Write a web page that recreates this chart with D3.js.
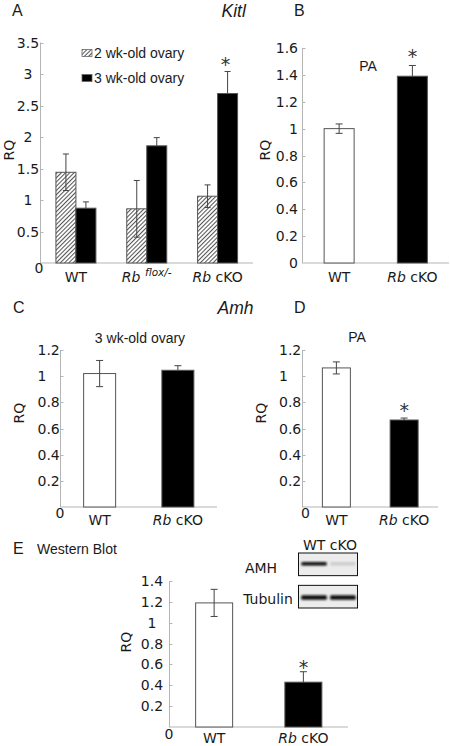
<!DOCTYPE html>
<html>
<head>
<meta charset="utf-8">
<script src="https://cdn.jsdelivr.net/npm/d3@7"></script>
<style>
  html, body { margin: 0; padding: 0; background: #fff; }
  svg { display: block; }
</style>
</head>
<body>
<svg id="chart" width="450" height="746"></svg>
<script>
// ---------------- DATA ----------------
// Panel A – Kitl, ovary
const aCategories = ["WT", "Rb flox/-", "Rb cKO"];
const aSeries = ["2 wk-old ovary", "3 wk-old ovary"];
const a2wk = [1.44, 0.86, 1.06];
const a2wkErr = [0.29, 0.45, 0.18];
const a3wk = [0.87, 1.86, 2.69];
const a3wkErr = [0.10, 0.13, 0.35];
const aTicks = [0, 0.5, 1, 1.5, 2, 2.5, 3, 3.5];
const aSignif = [false, false, true];

// Panel B – Kitl, PA
const bCategories = ["WT", "Rb cKO"];
const bValues = [1.0, 1.39];
const bErr = [0.035, 0.08];
const bTicks = [0, 0.2, 0.4, 0.6, 0.8, 1, 1.2, 1.4, 1.6];
const bSignif = [false, true];

// Panel C – Amh, 3 wk-old ovary
const cCategories = ["WT", "Rb cKO"];
const cValues = [1.02, 1.045];
const cErr = [0.10, 0.035];
const cTicks = [0, 0.2, 0.4, 0.6, 0.8, 1, 1.2];
const cSignif = [false, false];

// Panel D – Amh, PA
const dCategories = ["WT", "Rb cKO"];
const dValues = [1.063, 0.665];
const dErr = [0.046, 0.015];
const dTicks = [0, 0.2, 0.4, 0.6, 0.8, 1, 1.2];
const dSignif = [false, true];

// Panel E – Western blot quantification
const eCategories = ["WT", "Rb cKO"];
const eValues = [1.19, 0.43];
const eErr = [0.13, 0.10];
const eTicks = [0, 0.2, 0.4, 0.6, 0.8, 1, 1.2, 1.4];
const eSignif = [false, true];

// Blot inset
const blotLanes = ["WT", "cKO"];
const blotProteins = ["AMH", "Tubulin"];
const blotAMH = [1.0, 0.12];
const blotTubulin = [1.0, 1.0];

// ---------------- DRAWING ----------------
const svg = d3.select("#chart");
const NUM_FONT = "'DejaVu Sans', Verdana, sans-serif";
const ARIAL = "'Liberation Sans', Arial, sans-serif";
const AXIS_COLOR = "#b5b5b5";
const BAR_STROKE = "#555";
const ERR_COLOR = "#444";
const TEXT = "#1a1a1a";

const defs = svg.append("defs");
const pat = defs.append("pattern")
  .attr("id", "hatch")
  .attr("patternUnits", "userSpaceOnUse")
  .attr("width", 3).attr("height", 3)
  .attr("patternTransform", "rotate(45)");
pat.append("rect").attr("width", 3).attr("height", 3).attr("fill", "#fff");
pat.append("line").attr("x1", 0.5).attr("y1", 0).attr("x2", 0.5).attr("y2", 3)
  .attr("stroke", "#555").attr("stroke-width", 1.1);

defs.append("filter").attr("id", "blur").attr("x", "-20%").attr("y", "-100%")
  .attr("width", "140%").attr("height", "300%")
  .append("feGaussianBlur").attr("stdDeviation", "0.9 0.8");

function catLabel(g, x, y, label) {
  const t = g.append("text").attr("x", x).attr("y", y)
    .attr("text-anchor", "middle")
    .attr("font-family", NUM_FONT).attr("font-size", 14).attr("fill", TEXT);
  if (label.startsWith("Rb ")) {
    const rest = label.slice(3);
    t.append("tspan").attr("font-style", "italic").text("Rb");
    if (rest === "flox/-") {
      t.append("tspan").text("\u00a0");
      t.append("tspan").attr("font-style", "italic").attr("font-size", 10.5)
        .attr("dy", -6).text("flox/-");
    } else {
      t.append("tspan").text(" " + rest);
    }
  } else {
    t.text(label);
  }
}

function drawAxes(g, cfg, y, ticks) {
  g.append("line").attr("x1", cfg.baseX0).attr("x2", cfg.baseX1)
    .attr("y1", y(0)).attr("y2", y(0)).attr("stroke", AXIS_COLOR).attr("stroke-width", 1);
  g.append("line").attr("x1", cfg.axisX).attr("x2", cfg.axisX)
    .attr("y1", y(ticks[ticks.length - 1])).attr("y2", y(0))
    .attr("stroke", AXIS_COLOR).attr("stroke-width", 1);
  ticks.forEach(t => {
    if (t !== 0) {
      g.append("line").attr("x1", cfg.axisX).attr("x2", cfg.axisX + 3)
        .attr("y1", Math.round(y(t)) + 0.5).attr("y2", Math.round(y(t)) + 0.5)
        .attr("stroke", AXIS_COLOR);
    }
    const isZero = t === 0 && cfg.zero;
    g.append("text")
      .attr("x", isZero ? cfg.zero[0] : cfg.labelX)
      .attr("y", isZero ? cfg.zero[1] : y(t))
      .attr("dy", "0.36em")
      .attr("text-anchor", isZero ? "middle" : cfg.labelAnchor)
      .attr("font-family", NUM_FONT).attr("font-size", 14).attr("fill", TEXT)
      .text(String(t));
  });
  g.append("text")
    .attr("transform", `translate(${cfg.rq[0]},${cfg.rq[1]}) rotate(-90)`)
    .attr("text-anchor", "middle").attr("dy", "0.36em")
    .attr("font-family", NUM_FONT).attr("font-size", 14).attr("fill", TEXT)
    .text("RQ");
}

// error bar: whisker from yTop down to yBot, with caps
function errBar(g, cx, yTop, yBot, cap, capBottom) {
  g.append("line").attr("x1", cx).attr("x2", cx).attr("y1", yTop).attr("y2", yBot)
    .attr("stroke", ERR_COLOR).attr("stroke-width", 1);
  g.append("line").attr("x1", cx - cap / 2).attr("x2", cx + cap / 2)
    .attr("y1", yTop).attr("y2", yTop).attr("stroke", ERR_COLOR).attr("stroke-width", 1);
  if (capBottom) {
    g.append("line").attr("x1", cx - cap / 2).attr("x2", cx + cap / 2)
      .attr("y1", yBot).attr("y2", yBot).attr("stroke", ERR_COLOR).attr("stroke-width", 1);
  }
}

function asterisk(g, x, y) {
  g.append("text").attr("x", x).attr("y", y).attr("dy", "0.72em")
    .attr("text-anchor", "middle").attr("font-family", NUM_FONT)
    .attr("font-size", 19).attr("fill", "#333").text("*");
}

function drawTwoBar(cfg, cats, vals, errs, ticks, signif) {
  const g = svg.append("g");
  const y = d3.scaleLinear().domain([0, ticks[ticks.length - 1]]).range(cfg.yRange);
  const x = d3.scaleBand().domain(cats).range([cfg.axisX, cfg.baseX1]).padding(0);
  drawAxes(g, cfg, y, ticks);
  const fills = ["#fff", "#000"];
  cats.forEach((c, i) => {
    const cx = x(c) + x.bandwidth() / 2;
    g.append("rect")
      .attr("x", cx - cfg.barW / 2).attr("width", cfg.barW)
      .attr("y", y(vals[i])).attr("height", y(0) - y(vals[i]))
      .attr("fill", fills[i]).attr("stroke", BAR_STROKE).attr("stroke-width", 1);
    const black = fills[i] === "#000";
    if (black) {
      errBar(g, cx, y(vals[i] + errs[i]), y(vals[i]), 7, false);
    } else {
      errBar(g, cx, y(vals[i] + errs[i]), y(vals[i] - errs[i]), 7, true);
    }
    if (signif[i]) asterisk(g, cx, y(vals[i] + errs[i]) - cfg.starGap);
    catLabel(g, cx, cfg.catY, c);
  });
  return g;
}

// ---- Panel A ----
(function () {
  const cfg = {
    axisX: 40.5, baseX0: 40, baseX1: 253, yRange: [263, 42.5],
    labelX: 28, labelAnchor: "middle", zero: [39, 267.5], rq: [8.5, 150], catY: 282
  };
  const g = svg.append("g");
  const y = d3.scaleLinear().domain([0, 3.5]).range(cfg.yRange);
  const x0 = d3.scaleBand().domain(aCategories).range([cfg.axisX, cfg.baseX1]).padding(0);
  const groupW = 40;
  const x1 = d3.scaleBand().domain(aSeries).range([-groupW / 2, groupW / 2]).padding(0);
  drawAxes(g, cfg, y, aTicks);
  const seriesVals = [a2wk, a3wk];
  const seriesErr = [a2wkErr, a3wkErr];
  const seriesFill = ["url(#hatch)", "#000"];
  aCategories.forEach((c, i) => {
    const cx = x0(c) + x0.bandwidth() / 2;
    aSeries.forEach((s, j) => {
      const v = seriesVals[j][i], e = seriesErr[j][i];
      const bx = cx + x1(s);
      g.append("rect").attr("x", bx).attr("width", x1.bandwidth())
        .attr("y", y(v)).attr("height", y(0) - y(v))
        .attr("fill", seriesFill[j]).attr("stroke", BAR_STROKE).attr("stroke-width", 1);
      const bc = bx + x1.bandwidth() / 2;
      if (j === 1) {
        errBar(g, bc, y(v + e), y(v), 6, false);
        if (aSignif[i]) asterisk(g, bc - 2, y(v + e) - 14);
      } else {
        errBar(g, bc, y(v + e), y(v - e), 6, true);
      }
    });
    catLabel(g, cx, cfg.catY, c);
  });
  // legend
  const lg = g.append("g");
  aSeries.forEach((s, j) => {
    const ly = 53 + j * 25;
    lg.append("rect").attr("x", 82).attr("y", ly - 3.5).attr("width", 10).attr("height", 7)
      .attr("fill", seriesFill[j]).attr("stroke", "#666").attr("stroke-width", 0.8);
    lg.append("text").attr("x", 94).attr("y", ly).attr("dy", "0.36em")
      .attr("font-family", ARIAL).attr("font-size", 14).attr("fill", TEXT).text(s);
  });
})();

// ---- Panel B ----
drawTwoBar({
  axisX: 302.5, baseX0: 302, baseX1: 449, yRange: [263, 48], barW: 30,
  labelX: 298, labelAnchor: "end", zero: null, rq: [265, 150], catY: 282, starGap: 16
}, bCategories, bValues, bErr, bTicks, bSignif);

// ---- Panel C ----
drawTwoBar({
  axisX: 60.5, baseX0: 60, baseX1: 217, yRange: [507, 350], barW: 32,
  labelX: 37.5, labelAnchor: "start", zero: [60, 513], rq: [19, 413], catY: 525, starGap: 15
}, cCategories, cValues, cErr, cTicks, cSignif);

// ---- Panel D ----
drawTwoBar({
  axisX: 302.5, baseX0: 302, baseX1: 438, yRange: [507, 350], barW: 28,
  labelX: 279, labelAnchor: "start", zero: [305.5, 513], rq: [261, 413], catY: 525, starGap: 15
}, dCategories, dValues, dErr, dTicks, dSignif);

// ---- Panel E ----
drawTwoBar({
  axisX: 169.5, baseX0: 169, baseX1: 348, yRange: [727, 581], barW: 37,
  labelX: 152, labelAnchor: "middle", zero: [169, 734], rq: [126, 642], catY: 743, starGap: 11
}, eCategories, eValues, eErr, eTicks, eSignif);

// ---- Blot inset ----
(function () {
  const g = svg.append("g");
  const lane = d3.scaleBand().domain(blotLanes).range([299, 358]).padding(0.04);
  const rowY = d3.scaleBand().domain(blotProteins).range([553, 608]).paddingInner(0.3);
  const rowData = { AMH: blotAMH, Tubulin: blotTubulin };
  const shade = d3.scaleLinear().domain([0, 1]).range(["#e8e8e8", "#0a0a0a"]);
  blotProteins.forEach((p) => {
    const top = rowY(p), h = rowY.bandwidth();
    g.append("rect").attr("x", 298.5).attr("y", top).attr("width", 59).attr("height", h)
      .attr("fill", "#ececec").attr("stroke", "#111").attr("stroke-width", 1);
    const bandY = p === "AMH" ? top + 9 : top + 10;
    blotLanes.forEach((l, i) => {
      const v = rowData[p][i];
      g.append("rect")
        .attr("x", lane(l) + 1).attr("width", lane.bandwidth() - 2)
        .attr("y", bandY).attr("height", p === "AMH" ? 3.5 : 4.5)
        .attr("rx", 1.5)
        .attr("fill", shade(v)).attr("filter", "url(#blur)");
    });
    g.append("text").attr("x", p === "AMH" ? 261 : 268).attr("y", top + h / 2 + (p === "AMH" ? 4 : 2))
      .attr("dy", "0.36em").attr("text-anchor", "middle")
      .attr("font-family", NUM_FONT).attr("font-size", 14).attr("fill", TEXT).text(p);
  });
  g.append("text").attr("x", 330).attr("y", 550).attr("text-anchor", "middle")
    .attr("font-family", NUM_FONT).attr("font-size", 14).attr("fill", TEXT)
    .text(blotLanes.join(" "));
})();

// ---- Panel letters and titles ----
const letters = [["A", 12, 15.5], ["B", 294, 15.5], ["C", 13, 313], ["D", 294, 313], ["E", 13, 554]];
letters.forEach(([t, x, yy]) => {
  svg.append("text").attr("x", x).attr("y", yy).attr("font-family", ARIAL)
    .attr("font-size", 16).attr("fill", TEXT).text(t);
});
const titles = [
  ["Kitl", 221.5, 16.5, 17.5, "italic", "start"],
  ["Amh", 217.5, 314, 17.5, "italic", "start"],
  ["PA", 368, 71, 14, "normal", "middle"],
  ["PA", 357, 342, 14, "normal", "middle"],
  ["3 wk-old ovary", 140, 343, 14, "normal", "middle"],
  ["Western Blot", 37, 554, 14, "normal", "start"]
];
titles.forEach(([t, x, yy, fs, st, an]) => {
  svg.append("text").attr("x", x).attr("y", yy).attr("font-family", ARIAL)
    .attr("font-size", fs).attr("font-style", st).attr("text-anchor", an)
    .attr("fill", TEXT).text(t);
});
</script>
</body>
</html>
